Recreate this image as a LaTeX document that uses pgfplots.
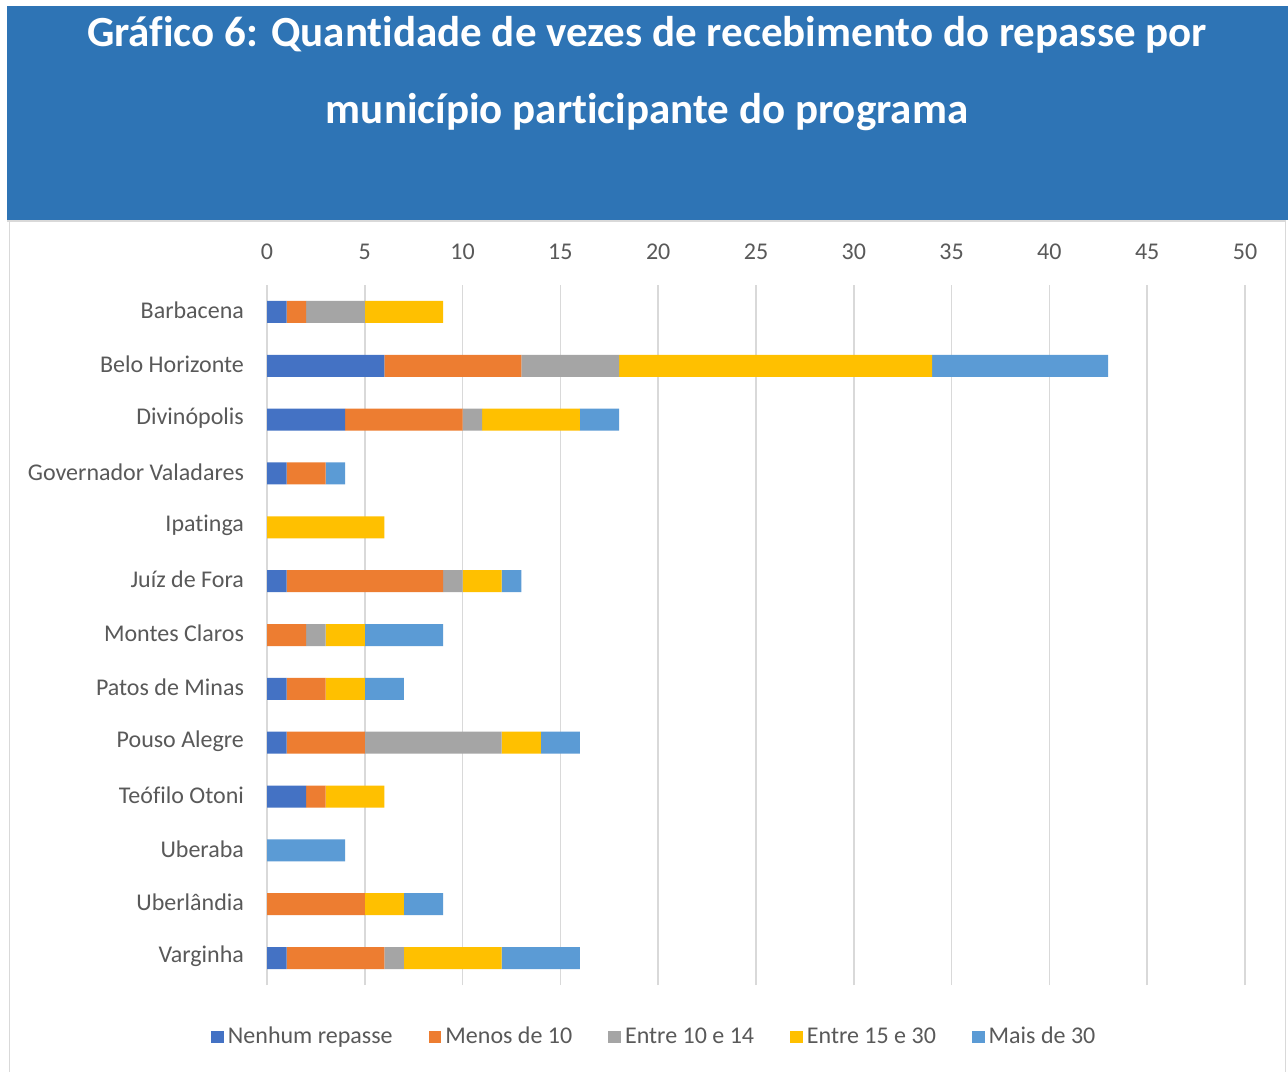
\documentclass[border=0pt]{standalone}
\usepackage{fontspec}
\setmainfont{Carlito}[Ligatures={NoCommon}]
\usepackage{pgfplots}
\pgfplotsset{compat=1.18}
\definecolor{band}{HTML}{2E74B5}
\definecolor{gridc}{HTML}{D9D9D9}
\definecolor{txt}{HTML}{595959}
\definecolor{cNen}{HTML}{4472C4}
\definecolor{cMen}{HTML}{ED7D31}
\definecolor{cE10}{HTML}{A5A5A5}
\definecolor{cE15}{HTML}{FFC000}
\definecolor{cMais}{HTML}{5B9BD5}
\begin{document}
\begin{tikzpicture}[x=0.5pt,y=-0.5pt]
\fill[white] (0,0) rectangle (1288,1072);
\draw[gridc,line width=0.75pt] (9.5,220) -- (9.5,1072);
\draw[gridc,line width=0.75pt] (1285.5,220) -- (1285.5,1072);
\fill[band] (7,6) rectangle (1288,220);
\draw[gridc,line width=1pt] (7,221) -- (1285,221);
\node[white,font=\bfseries\fontsize{21.5}{26}\selectfont] at (647,35) {Gráfico 6: Quantidade de vezes de recebimento do repasse por};
\node[white,font=\bfseries\fontsize{21.5}{26}\selectfont] at (647,112) {município participante do programa};
\begin{axis}[at={(133.5pt,-142.5pt)},anchor=north west,
  scale only axis,width=489pt,height=350pt,
  xbar stacked,bar width=11pt,
  xmin=0,xmax=50,ymin=-0.5,ymax=12.5,
  xtick={0,5,...,50},ytick={0,...,12},
  yticklabels={Varginha,Uberlândia,Uberaba,Teófilo Otoni,Pouso Alegre,Patos de Minas,Montes Claros,Juíz de Fora,Ipatinga,Governador Valadares,Divinópolis,Belo Horizonte,Barbacena},
  xticklabel pos=top,
  axis line style={draw=none},tick style={draw=none},
  xmajorgrids,grid style={gridc,line width=0.75pt},
  tick label style={font=\fontsize{12}{14}\selectfont,text=txt},
  /pgf/number format/assume math mode=true,
  xticklabel style={yshift=9pt},
  yticklabel style={xshift=-8pt,yshift=0.8pt},
  legend style={at={(0.397,-0.0743)},anchor=center,draw=none,fill=none,
    legend columns=5,font=\fontsize{12}{14}\selectfont,text=txt,
    /tikz/every even column/.append style={column sep=16pt}},
  legend image code/.code={\fill[#1] (0pt,-3.2pt) rectangle (6.4pt,3.2pt);},
  ]
\addplot[fill=cNen,draw=none] coordinates
  {(1,12)(6,11)(4,10)(1,9)(0,8)(1,7)(0,6)(1,5)(1,4)(2,3)(0,2)(0,1)(1,0)};
\addlegendentry{Nenhum repasse}
\addplot[fill=cMen,draw=none] coordinates
  {(1,12)(7,11)(6,10)(2,9)(0,8)(8,7)(2,6)(2,5)(4,4)(1,3)(0,2)(5,1)(5,0)};
\addlegendentry{Menos de 10}
\addplot[fill=cE10,draw=none] coordinates
  {(3,12)(5,11)(1,10)(0,9)(0,8)(1,7)(1,6)(0,5)(7,4)(0,3)(0,2)(0,1)(1,0)};
\addlegendentry{Entre 10 e 14}
\addplot[fill=cE15,draw=none] coordinates
  {(4,12)(16,11)(5,10)(0,9)(6,8)(2,7)(2,6)(2,5)(2,4)(3,3)(0,2)(2,1)(5,0)};
\addlegendentry{Entre 15 e 30}
\addplot[fill=cMais,draw=none] coordinates
  {(0,12)(9,11)(2,10)(1,9)(0,8)(1,7)(4,6)(2,5)(2,4)(0,3)(4,2)(2,1)(4,0)};
\addlegendentry{Mais de 30}
\end{axis}
\end{tikzpicture}
\end{document}
